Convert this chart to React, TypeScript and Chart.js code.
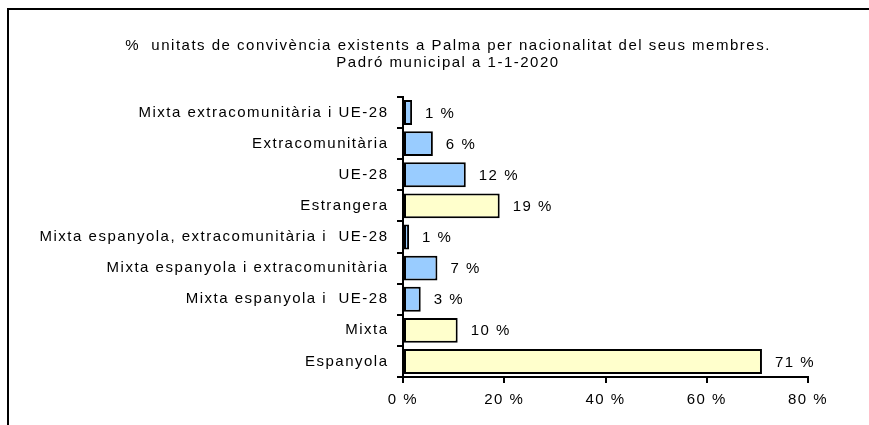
import React, { useEffect, useRef } from "react";
import { Chart, registerables } from "chart.js";

Chart.register(...registerables);

const categories = [
  "Mixta extracomunitària i UE-28",
  "Extracomunitària",
  "UE-28",
  "Estrangera",
  "Mixta espanyola, extracomunitària i  UE-28",
  "Mixta espanyola i extracomunitària",
  "Mixta espanyola i  UE-28",
  "Mixta",
  "Espanyola",
];
const values = [1.8, 5.9, 12.4, 19.1, 1.2, 6.8, 3.5, 10.8, 70.9];
const valueLabels = ["1 %", "6 %", "12 %", "19 %", "1 %", "7 %", "3 %", "10 %", "71 %"];
const groups = ["sub", "sub", "sub", "main", "sub", "sub", "sub", "main", "main"];
const titleLines = [
  "%  unitats de convivència existents a Palma per nacionalitat del seus membres.",
  "Padró municipal a 1-1-2020",
];
const xTicks = [0, 20, 40, 60, 80];

const FONT = "'Liberation Sans', Arial, sans-serif";

const spacingPlugin = {
  id: "letterSpacing",
  beforeDraw(chart: any) {
    (chart.ctx as any).letterSpacing = "1.5px";
  },
};

const titlePlugin = {
  id: "twoLineTitle",
  afterDraw(chart: any) {
    const ctx = chart.ctx;
    ctx.save();
    (ctx as any).letterSpacing = "1.5px";
    ctx.font = `15px ${FONT}`;
    ctx.fillStyle = "#000";
    ctx.textAlign = "center";
    ctx.textBaseline = "middle";
    titleLines.forEach((line, i) => {
      ctx.fillText(line, 448, 46 + i * 17);
    });
    ctx.restore();
  },
};

const valueLabelPlugin = {
  id: "valueLabels",
  afterDatasetsDraw(chart: any) {
    const ctx = chart.ctx;
    const meta = chart.getDatasetMeta(0);
    ctx.save();
    ctx.font = `15px ${FONT}`;
    ctx.fillStyle = "#000";
    ctx.textAlign = "left";
    ctx.textBaseline = "middle";
    meta.data.forEach((bar: any, i: number) => {
      ctx.fillText(valueLabels[i], bar.x + 13, bar.y + 1);
    });
    ctx.restore();
  },
};

export default function App() {
  const ref = useRef<HTMLCanvasElement>(null);
  useEffect(() => {
    if (!ref.current) return;
    const chart = new Chart(ref.current, {
      type: "bar",
      data: {
        labels: categories,
        datasets: [
          {
            data: values,
            backgroundColor: groups.map((g) => (g === "main" ? "#FFFFCC" : "#99CCFF")),
            borderColor: "#000",
            borderWidth: 2,
            borderSkipped: false,
            categoryPercentage: 1,
            barPercentage: 0.8,
          },
        ],
      },
      plugins: [spacingPlugin, valueLabelPlugin, titlePlugin],
      options: {
        indexAxis: "y",
        responsive: false,
        animation: false,
        devicePixelRatio: 1,
        layout: { padding: { left: 0, right: 61, top: 97, bottom: 0 } },
        plugins: {
          legend: { display: false },
          tooltip: { enabled: false },
          title: { display: false },
        },
        scales: {
          x: {
            min: 0,
            max: 80,
            afterBuildTicks: (scale: any) => {
              scale.ticks = xTicks.map((v) => ({ value: v }));
            },
            afterFit: (scale: any) => {
              scale.height = 48;
            },
            ticks: {
              color: "#000",
              font: { family: FONT, size: 15 },
              padding: 8,
              maxRotation: 0,
              callback: (v: any) => v + " %",
            },
            grid: {
              drawOnChartArea: false,
              drawTicks: true,
              tickLength: 6,
              color: "#000",
              lineWidth: 2,
            },
            border: { display: true, color: "#000", width: 2 },
          },
          y: {
            afterFit: (scale: any) => {
              scale.width = 403;
            },
            ticks: {
              color: "#000",
              font: { family: FONT, size: 15 },
              padding: 8.5,
              autoSkip: false,
            },
            grid: {
              drawOnChartArea: false,
              drawTicks: true,
              tickLength: 6,
              color: "#000",
              lineWidth: 2,
            },
            border: { display: true, color: "#000", width: 2 },
          },
        },
      },
    } as any);
    return () => chart.destroy();
  }, []);
  return (
    <div style={{ position: "absolute", left: 0, top: 0, width: 869, height: 425, background: "#fff" }}>
      <canvas ref={ref} width={869} height={425} style={{ position: "absolute", left: 0, top: 0, width: 869, height: 425 }} />
      <div
        style={{
          position: "absolute",
          left: 7,
          top: 8,
          width: 862,
          height: 417,
          borderTop: "2px solid #000",
          borderLeft: "2px solid #000",
          boxSizing: "border-box",
          pointerEvents: "none",
        }}
      />
    </div>
  );
}
